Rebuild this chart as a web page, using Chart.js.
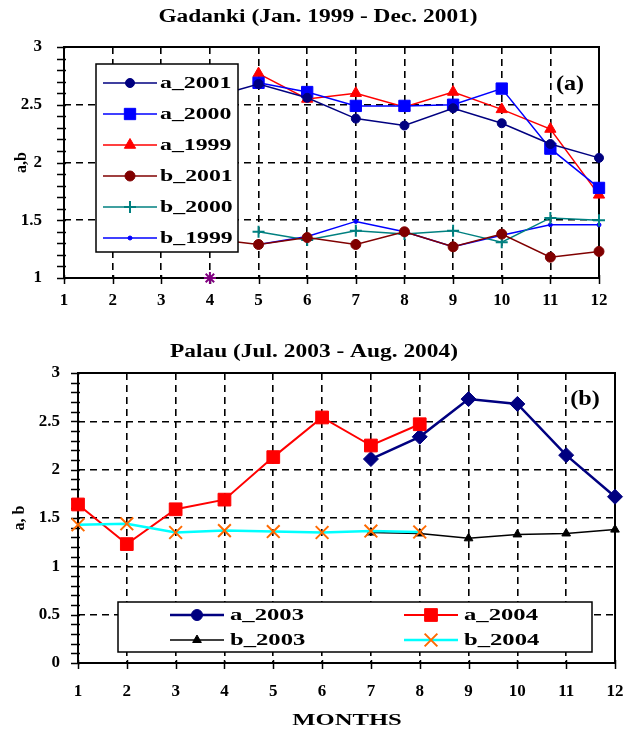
<!DOCTYPE html>
<html>
<head>
<meta charset="utf-8">
<script src="https://cdn.jsdelivr.net/npm/chart.js@4.4.0/dist/chart.umd.min.js"></script>
<style>
  body { margin: 0; background: #fff; }
  canvas { display: block; }
</style>
</head>
<body>
<canvas id="chartA" width="628" height="325"></canvas>
<canvas id="chartB" width="628" height="406"></canvas>
<script>
// Months on the x axis
const months = ["1", "2", "3", "4", "5", "6", "7", "8", "9", "10", "11", "12"];

// Gadanki (Jan. 1999 - Dec. 2001)
const a2001 = [null, null, null, 2.56, 2.68, 2.56, 2.38, 2.32, 2.47, 2.34, 2.16, 2.04];
const a2000 = [null, null, null, null, 2.69, 2.61, 2.49, 2.49, 2.50, 2.64, 2.12, 1.78];
const a1999 = [null, null, null, null, 2.77, 2.55, 2.60, 2.48, 2.61, 2.46, 2.29, 1.72];
const b2001 = [null, null, null, 1.34, 1.29, 1.35, 1.29, 1.40, 1.27, 1.38, 1.18, 1.23];
const b2000 = [null, null, null, null, 1.40, 1.33, 1.41, 1.38, 1.41, 1.31, 1.52, 1.50];
const b1999 = [null, null, null, null, 1.29, 1.36, 1.49, 1.40, 1.27, 1.37, 1.46, 1.46];
const extraA = [null, null, null, 1.0, null, null, null, null, null, null, null, null];

// Palau (Jul. 2003 - Aug. 2004)
const a2003 = [null, null, null, null, null, null, 2.11, 2.34, 2.73, 2.68, 2.15, 1.72];
const a2004 = [1.64, 1.23, 1.59, 1.69, 2.13, 2.54, 2.25, 2.47, null, null, null, null];
const b2003 = [null, null, null, null, null, null, 1.35, 1.34, 1.29, 1.33, 1.34, 1.38];
const b2004 = [1.43, 1.44, 1.35, 1.37, 1.36, 1.35, 1.365, 1.355, null, null, null, null];

// y tick labels
const yTicksA = [1, 1.5, 2, 2.5, 3];
const yTicksB = [0, 0.5, 1, 1.5, 2, 2.5, 3];

const SERIF = "'Liberation Serif', 'Times New Roman', serif";
Chart.defaults.font.family = SERIF;
Chart.defaults.color = "#000";

function series(label, data, color, style, radius, width, pointColor, order) {
  const pc = pointColor || color;
  const thin = style === "cross" || style === "crossRot" || style === "star";
  return {
    label: label,
    data: data,
    borderColor: color,
    backgroundColor: pc,
    pointBackgroundColor: pc,
    pointBorderColor: pc,
    borderWidth: width,
    pointStyle: style,
    pointRadius: radius,
    pointHoverRadius: radius,
    pointBorderWidth: thin ? 2 : 1,
    tension: 0,
    clip: false,
    order: order || 0
  };
}

function stretchText(ctx, text, x, y, font, sx, align) {
  ctx.save();
  ctx.font = font;
  ctx.fillStyle = "#000";
  ctx.textBaseline = "middle";
  ctx.textAlign = "left";
  const w = ctx.measureText(text).width * sx;
  const x0 = align === "center" ? x - w / 2 : x;
  ctx.translate(x0, y);
  ctx.scale(sx, 1);
  ctx.fillText(text, 0, 0);
  ctx.restore();
}

function marker(ctx, ds, x, y, style, radius) {
  ctx.save();
  ctx.fillStyle = ds.pointBackgroundColor;
  ctx.strokeStyle = ds.pointBorderColor;
  ctx.lineWidth = ds.pointBorderWidth;
  const r = radius || ds.pointRadius;
  if (Chart.helpers && Chart.helpers.drawPoint) {
    Chart.helpers.drawPoint(ctx, {
      pointStyle: style || ds.pointStyle, radius: r, rotation: 0, borderWidth: ds.pointBorderWidth
    }, x, y);
  } else {
    ctx.beginPath();
    ctx.arc(x, y, r, 0, Math.PI * 2);
    ctx.fill();
  }
  ctx.restore();
}

function drawLegend(chart, lg) {
  const ctx = chart.ctx;
  ctx.save();
  ctx.fillStyle = "#fff";
  ctx.fillRect(lg.x, lg.y, lg.w, lg.h);
  ctx.strokeStyle = "#000";
  ctx.lineWidth = 1.5;
  ctx.strokeRect(lg.x, lg.y, lg.w, lg.h);
  ctx.restore();
  lg.items.forEach(it => {
    const ds = chart.data.datasets[it.index];
    ctx.save();
    ctx.strokeStyle = ds.borderColor;
    ctx.lineWidth = ds.borderWidth;
    ctx.beginPath();
    ctx.moveTo(it.x, it.y);
    ctx.lineTo(it.x + lg.lineLen, it.y);
    ctx.stroke();
    ctx.restore();
    marker(ctx, ds, it.x + lg.lineLen / 2, it.y, it.style, it.radius);
    stretchText(ctx, ds.label, it.x + lg.lineLen + lg.gap, it.y + 1, lg.font, lg.sx, "left");
  });
}

function makeDeco(cfg) {
  return {
    id: "deco",
    beforeDatasetsDraw(chart) {
      const { ctx, chartArea: a } = chart;
      const xs = chart.scales.x, ys = chart.scales.y;
      ctx.save();
      ctx.strokeStyle = "#000";
      ctx.lineWidth = 1.5;
      ctx.beginPath();
      // tick marks crossing the axes
      ys.ticks.forEach(t => {
        const py = Math.round(ys.getPixelForValue(t.value)) + 0.5;
        ctx.moveTo(a.left - 7, py);
        ctx.lineTo(a.left + 2, py);
      });
      xs.ticks.forEach((t, i) => {
        const px = Math.round(xs.getPixelForTick(i)) + 0.5;
        ctx.moveTo(px, a.bottom - 3);
        ctx.lineTo(px, a.bottom + 6);
      });
      ctx.stroke();
      ctx.lineWidth = 2;
      ctx.strokeRect(a.left, a.top, a.right - a.left, a.bottom - a.top);
      ctx.restore();
    },
    afterDatasetsDraw(chart) {
      const ctx = chart.ctx;
      drawLegend(chart, cfg.legend);
      stretchText(ctx, cfg.title, cfg.titleX, cfg.titleY, "bold 18px " + SERIF, 1.3, "center");
      stretchText(ctx, cfg.tag, cfg.tagX, cfg.tagY, "bold 22px " + SERIF, 1.1, "center");
      if (cfg.xTitle) {
        stretchText(ctx, cfg.xTitle, cfg.xTitleX, cfg.xTitleY, "bold 17px " + SERIF, 1.45, "center");
      }
    }
  };
}

function isTick(v, list) {
  return list.find(t => Math.abs(t - v) < 1e-6);
}

function panelOptions(cfg) {
  return {
    responsive: false,
    animation: false,
    layout: { padding: { top: cfg.top, right: cfg.right, bottom: 0, left: 0 } },
    plugins: { legend: { display: false }, tooltip: { enabled: false } },
    scales: {
      x: {
        grid: {
          color: c => (c.index === 0 || c.index === months.length - 1) ? "rgba(0,0,0,0)" : "#000",
          lineWidth: 1.6,
          drawTicks: false
        },
        border: { display: false, dash: [7, 5] },
        ticks: { font: { size: 17, weight: "bold" }, color: "#000", padding: cfg.xPad, maxRotation: 0, autoSkip: false },
        afterFit: s => {
          s.height = cfg.xHeight;
          s.paddingLeft = 0;
          s.paddingRight = 0;
        }
      },
      y: {
        min: cfg.yMin,
        max: cfg.yMax,
        grid: {
          color: c => {
            const v = c.tick ? c.tick.value : null;
            if (v === null || Math.abs(v - cfg.yMin) < 1e-6 || Math.abs(v - cfg.yMax) < 1e-6) return "rgba(0,0,0,0)";
            return isTick(v, cfg.yTicks) !== undefined ? "#000" : "rgba(0,0,0,0)";
          },
          lineWidth: 1.6,
          drawTicks: false
        },
        border: { display: false, dash: [7, 5] },
        ticks: {
          stepSize: 0.1,
          autoSkip: false,
          font: { size: 17, weight: "bold" },
          color: "#000",
          padding: cfg.yPad,
          callback: v => {
            const t = isTick(v, cfg.yTicks);
            return t === undefined ? "" : String(t);
          }
        },
        title: {
          display: true,
          text: cfg.yTitle,
          font: { size: 16, weight: "bold" },
          color: "#000",
          padding: { top: cfg.yTitlePad, bottom: 0 }
        },
        afterFit: s => { s.width = cfg.yWidth; }
      }
    }
  };
}

// Panel (a)
const dataA = [
  series("a_2001", a2001, "#000080", "circle", 4.5, 1.5),
  series("a_2000", a2000, "#0000ff", "rect", 8, 1.5),
  series("a_1999", a1999, "#ff0000", "triangle", 6.5, 1.5),
  series("b_2001", b2001, "#800000", "circle", 5, 1.5),
  series("b_2000", b2000, "#008080", "cross", 6, 1.5),
  series("b_1999", b1999, "#0000ff", "circle", 2, 1.5),
  series("", extraA, "#800080", "star", 6, 1.5)
];

new Chart(document.getElementById("chartA"), {
  type: "line",
  data: { labels: months, datasets: dataA },
  options: panelOptions({
    top: 47, right: 29, xHeight: 47, xPad: 12, yWidth: 64, yPad: 22,
    yMin: 1, yMax: 3, yTicks: yTicksA, yTitle: "a,b", yTitlePad: 12
  }),
  plugins: [makeDeco({
    title: "Gadanki (Jan. 1999 - Dec. 2001)", titleX: 318, titleY: 17,
    tag: "(a)", tagX: 570, tagY: 84,
    legend: {
      x: 96, y: 64, w: 142, h: 188, lineLen: 54, gap: 3, font: "bold 17px " + SERIF, sx: 1.4,
      items: [0, 1, 2, 3, 4, 5].map(i => ({ index: i, x: 103, y: 83 + i * 31 }))
    }
  })]
});

// Panel (b)
const dataB = [
  series("a_2003", a2003, "#000080", "rectRot", 7.5, 2.5, null, 2),
  series("a_2004", a2004, "#ff0000", "rect", 9, 2, null, 1),
  series("b_2003", b2003, "#000000", "triangle", 5, 1.5, null, 3),
  series("b_2004", b2004, "#00ffff", "crossRot", 9, 2.5, "#ff6a00", 0)
];

new Chart(document.getElementById("chartB"), {
  type: "line",
  data: { labels: months, datasets: dataB },
  options: panelOptions({
    top: 48, right: 13, xHeight: 68, xPad: 18, yWidth: 78, yPad: 18,
    yMin: 0, yMax: 3, yTicks: yTicksB, yTitle: "a, b", yTitlePad: 10
  }),
  plugins: [makeDeco({
    title: "Palau (Jul. 2003 - Aug. 2004)", titleX: 314, titleY: 27,
    tag: "(b)", tagX: 585, tagY: 74,
    xTitle: "MONTHS", xTitleX: 347, xTitleY: 396,
    legend: {
      x: 118, y: 277, w: 474, h: 50, lineLen: 54, gap: 6, font: "bold 17px " + SERIF, sx: 1.45,
      items: [
        { index: 0, x: 170, y: 290, style: "circle", radius: 5.5 },
        { index: 1, x: 404, y: 290 },
        { index: 2, x: 170, y: 315 },
        { index: 3, x: 404, y: 315 }
      ]
    }
  })]
});
</script>
</body>
</html>
